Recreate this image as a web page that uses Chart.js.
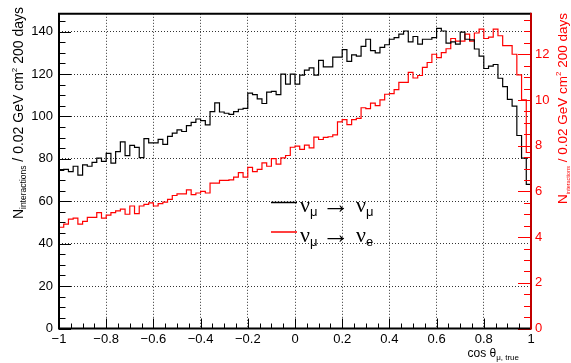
<!DOCTYPE html>
<html>
<head>
<meta charset="utf-8">
<script src="https://cdn.jsdelivr.net/npm/chart.js@4.4.1/dist/chart.umd.min.js"></script>
<style>
  html, body { margin: 0; padding: 0; background: #fff; }
  #wrap { width: 571px; height: 363px; }
</style>
</head>
<body>
<div id="wrap"><canvas id="chart" width="571" height="363"></canvas></div>
<script>
// histogram binning in cos(theta), 100 bins of 0.02
const xMin = -1;
const xMax = 1;
const binWidth = 0.02;

// numu -> numu (left axis, black)
const numuSurvival = [
  74.5, 75.0, 74.0, 76.5, 72.3, 77.2, 76.5, 78.3, 80.3, 78.8,
  82.6, 78.0, 83.4, 88.0, 81.5, 86.4, 85.4, 80.6, 89.5, 87.5,
  87.5, 89.2, 86.8, 90.6, 92.1, 93.7, 92.9, 95.7, 97.2, 98.8,
  98.0, 96.0, 102.3, 106.4, 102.1, 101.5, 101.0, 102.3, 103.4, 103.8,
  111.0, 110.3, 108.3, 106.1, 111.5, 111.8, 110.3, 120.0, 115.2, 120.0,
  115.2, 119.5, 121.8, 122.9, 119.5, 126.4, 123.4, 123.4, 128.0, 128.0,
  131.5, 126.0, 129.0, 128.4, 133.0, 136.4, 131.0, 130.0, 132.6, 133.8,
  136.4, 137.2, 138.8, 140.3, 135.2, 137.7, 134.1, 136.4, 136.4, 137.2,
  141.5, 140.3, 134.6, 135.2, 134.1, 139.8, 136.4, 136.1, 131.8, 128.4,
  122.6, 123.7, 124.5, 118.0, 114.1, 108.0, 104.9, 91.0, 80.3, 68.0
];

// numu -> nue (right axis, red)
const numuToNue = [
  4.43, 4.57, 4.79, 4.83, 4.57, 4.69, 4.86, 4.86, 5.07, 4.83,
  4.96, 5.07, 5.15, 5.22, 5.00, 5.36, 5.03, 5.36, 5.43, 5.50,
  5.36, 5.46, 5.53, 5.65, 5.82, 5.89, 5.89, 6.07, 5.86, 5.93,
  6.00, 5.93, 6.36, 6.36, 6.48, 6.48, 6.50, 6.62, 6.82, 6.62,
  7.05, 6.86, 6.96, 7.25, 7.10, 7.43, 7.19, 7.47, 7.57, 7.93,
  7.98, 7.84, 8.02, 7.90, 8.37, 8.27, 8.36, 8.39, 8.47, 9.04,
  9.14, 8.92, 9.14, 9.19, 9.66, 9.62, 9.86, 9.75, 10.00, 10.25,
  10.28, 10.45, 10.77, 10.77, 11.21, 10.96, 11.07, 11.43, 11.64, 12.00,
  11.85, 12.07, 12.24, 12.69, 12.57, 12.57, 12.88, 12.57, 12.93, 13.10,
  12.69, 12.75, 13.10, 12.81, 12.38, 12.38, 12.00, 11.10, 10.00, 7.70
];

const xTicks = [-1, -0.8, -0.6, -0.4, -0.2, 0, 0.2, 0.4, 0.6, 0.8, 1];
const leftTicks = [0, 20, 40, 60, 80, 100, 120, 140];
const rightTicks = [0, 2, 4, 6, 8, 10, 12];
const leftMax = 148.4;
const rightMax = 13.77;

const RED = '#ff0000';
const FONT = '"Liberation Sans", Arial, Helvetica, sans-serif';

// step histogram: one point per low edge, plus closing point at xMax
function histPoints(vals) {
  const pts = vals.map((v, i) => ({ x: xMin + i * binWidth, y: v }));
  pts.push({ x: xMax, y: vals[vals.length - 1] });
  return pts;
}

function fmtTick(v) {
  const s = String(Math.round(v * 100) / 100);
  return s.replace('-', '\u2212');
}

// draw a run of text pieces (with sub/superscripts) starting at x
function drawPieces(ctx, pieces, x, y) {
  let cx = x;
  for (const p of pieces) {
    ctx.font = p.font;
    ctx.fillText(p.t, cx, y + (p.dy || 0));
    cx += ctx.measureText(p.t).width;
  }
  return cx;
}
function piecesWidth(ctx, pieces) {
  let w = 0;
  for (const p of pieces) { ctx.font = p.font; w += ctx.measureText(p.t).width; }
  return w;
}

const axisTitle = (mainSize, subSize) => [
  { t: 'N', font: mainSize + 'px ' + FONT },
  { t: 'interactions', font: subSize + 'px ' + FONT, dy: 3 },
  { t: ' / 0.02 GeV cm', font: mainSize + 'px ' + FONT },
  { t: '2', font: '8px ' + FONT, dy: -6 },
  { t: ' 200 days', font: mainSize + 'px ' + FONT }
];

const decorations = {
  id: 'decorations',
  afterDatasetsDraw(chart) {
    const { ctx, chartArea, scales } = chart;
    const { left, right, top, bottom } = chartArea;
    ctx.save();

    // inward tick marks
    ctx.lineWidth = 1;
    ctx.strokeStyle = '#000';
    ctx.beginPath();
    for (let k = 0; k <= 40; k++) {
      const px = Math.round(scales.x.getPixelForValue(xMin + k * 0.05)) + 0.5;
      const len = k % 4 === 0 ? 10 : 5;
      ctx.moveTo(px, bottom); ctx.lineTo(px, bottom - len);
    }
    for (let k = 0; k <= 29; k++) {
      const py = Math.round(scales.y.getPixelForValue(k * 5)) + 0.5;
      const len = k % 4 === 0 ? 12 : 6.5;
      ctx.moveTo(left, py); ctx.lineTo(left + len, py);
    }
    ctx.stroke();

    ctx.strokeStyle = RED;
    ctx.beginPath();
    for (let k = 0; k <= 27; k++) {
      const py = Math.round(scales.y2.getPixelForValue(k * 0.5)) + 0.5;
      const len = k % 4 === 0 ? 13 : 7;
      ctx.moveTo(right, py); ctx.lineTo(right - len, py);
    }
    ctx.stroke();

    // frame
    ctx.lineWidth = 2;
    ctx.strokeStyle = '#000';
    ctx.beginPath();
    ctx.moveTo(right, top); ctx.lineTo(left, top); ctx.lineTo(left, bottom); ctx.lineTo(right, bottom);
    ctx.stroke();
    ctx.strokeStyle = '#c00000';
    ctx.beginPath();
    ctx.moveTo(right, top - 1); ctx.lineTo(right, bottom + 1);
    ctx.stroke();
    ctx.restore();
  },
  afterDraw(chart) {
    const { ctx } = chart;
    ctx.save();
    ctx.textBaseline = 'alphabetic';
    ctx.textAlign = 'left';

    // x title
    ctx.fillStyle = '#000';
    const xt = [
      { t: 'cos \u03B8', font: '12px ' + FONT },
      { t: '\u03BC, true', font: '8px ' + FONT, dy: 3 }
    ];
    drawPieces(ctx, xt, 519 - piecesWidth(ctx, xt), 357);

    // left y title (rotated, aligned to top)
    const lt = axisTitle(14, 8.5);
    ctx.save();
    ctx.translate(23, 7);
    ctx.rotate(-Math.PI / 2);
    drawPieces(ctx, lt, -piecesWidth(ctx, lt), 0);
    ctx.restore();

    // right y title
    ctx.fillStyle = RED;
    const rt = axisTitle(13.5, 5.5);
    ctx.save();
    ctx.translate(567, 13);
    ctx.rotate(-Math.PI / 2);
    drawPieces(ctx, rt, -piecesWidth(ctx, rt), 0);
    ctx.restore();

    // legend
    const rows = [
      { color: '#000', y: 202.5, base: 212, sub: '\u03BC' },
      { color: RED, y: 232, base: 242, sub: 'e' }
    ];
    const big = '22px "Liberation Serif", "Times New Roman", serif';
    const small = '13px ' + FONT;
    for (const r of rows) {
      ctx.strokeStyle = r.color;
      ctx.lineWidth = 1.5;
      ctx.beginPath();
      ctx.moveTo(271, r.y); ctx.lineTo(297, r.y);
      ctx.stroke();
      ctx.fillStyle = '#000';
      drawPieces(ctx, [{ t: '\u03BD', font: big }, { t: '\u03BC', font: small, dy: 4 }], 300, r.base);
      // arrow stretched to span
      ctx.font = '26px "Liberation Serif", serif';
      const aw = ctx.measureText('\u2192').width;
      ctx.save();
      ctx.translate(322, r.base + 1);
      ctx.scale(28 / aw, 1);
      ctx.fillText('\u2192', 0, 0);
      ctx.restore();
      drawPieces(ctx, [{ t: '\u03BD', font: big }, { t: r.sub, font: small, dy: 4 }], 356, r.base);
    }
    ctx.restore();
  }
};

const tickFont = { family: FONT, size: 13 };

new Chart(document.getElementById('chart'), {
  type: 'line',
  data: {
    datasets: [
      {
        label: 'numu -> numu',
        data: histPoints(numuSurvival),
        yAxisID: 'y',
        borderColor: '#000',
        borderWidth: 1.2,
        stepped: 'before',
        pointRadius: 0,
        fill: false
      },
      {
        label: 'numu -> nue',
        data: histPoints(numuToNue),
        yAxisID: 'y2',
        borderColor: RED,
        borderWidth: 1.2,
        stepped: 'before',
        pointRadius: 0,
        fill: false
      }
    ]
  },
  options: {
    responsive: false,
    animation: false,
    devicePixelRatio: 1,
    layout: { padding: { top: 7, left: 0, right: 0, bottom: 0 } },
    plugins: { legend: { display: false }, tooltip: { enabled: false } },
    scales: {
      x: {
        type: 'linear',
        min: xMin,
        max: xMax,
        afterBuildTicks: s => { s.ticks = xTicks.map(v => ({ value: v })); },
        afterFit: s => { s.height = 34.5; },
        ticks: { color: '#000', font: tickFont, padding: 3, maxRotation: 0, autoSkip: false, callback: v => fmtTick(v) },
        grid: { color: '#333', lineWidth: 1, drawTicks: false },
        border: { display: false, dash: [1, 2] }
      },
      y: {
        type: 'linear',
        position: 'left',
        min: 0,
        max: leftMax,
        afterBuildTicks: s => { s.ticks = leftTicks.map(v => ({ value: v })); },
        afterFit: s => { s.width = 59; },
        ticks: { color: '#000', font: tickFont, padding: 6, callback: v => fmtTick(v) },
        grid: { color: '#333', lineWidth: 1, drawTicks: false },
        border: { display: false, dash: [1, 2] }
      },
      y2: {
        type: 'linear',
        position: 'right',
        min: 0,
        max: rightMax,
        afterBuildTicks: s => { s.ticks = rightTicks.map(v => ({ value: v })); },
        afterFit: s => { s.width = 40; },
        ticks: { color: RED, font: tickFont, padding: 4, callback: v => fmtTick(v) },
        grid: { display: false, drawOnChartArea: false, drawTicks: false },
        border: { display: false }
      }
    }
  },
  plugins: [decorations]
});
</script>
</body>
</html>
